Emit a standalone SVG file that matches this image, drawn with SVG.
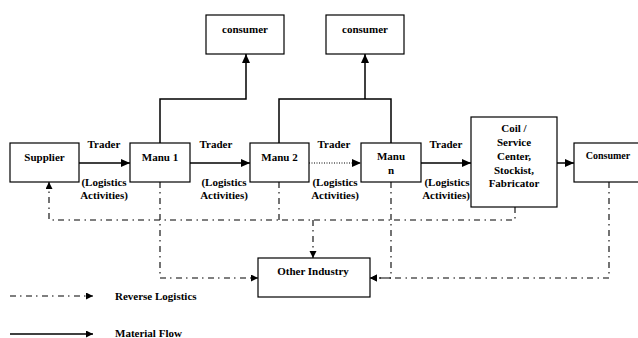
<svg xmlns="http://www.w3.org/2000/svg" width="638" height="338" viewBox="0 0 638 338">
<defs>
<style>
.box{fill:#fff;stroke:#000;stroke-width:1.2}
.t{font-weight:bold;font-size:11px;fill:#000;text-anchor:middle}
.sm{font-size:10px}
.solid{fill:none;stroke:#000;stroke-width:1.5}
.dd{fill:none;stroke:#000;stroke-width:1.1;stroke-dasharray:6 4 1.5 4.5}
.dot{fill:none;stroke:#000;stroke-width:1;stroke-dasharray:1 1.5}
</style>
<marker id="ah" markerWidth="10" markerHeight="10" refX="9" refY="4" orient="auto" markerUnits="userSpaceOnUse">
<path d="M0,0 L9,4 L0,8 Z" fill="#000"/>
</marker>
<marker id="ahs" markerWidth="8" markerHeight="8" refX="7" refY="3.5" orient="auto" markerUnits="userSpaceOnUse">
<path d="M0,0 L7,3.5 L0,7 Z" fill="#000"/>
</marker>
</defs>
<rect width="638" height="338" fill="#fff"/>
<g id="connectors">
<path class="solid" d="M79,163 H130" marker-end="url(#ah)"/>
<path class="solid" d="M190,163 H250" marker-end="url(#ah)"/>
<path class="dot" d="M309,163 H361" marker-end="url(#ah)"/>
<path class="solid" d="M421,163 H471" marker-end="url(#ah)"/>
<path class="solid" d="M557,163 H574" marker-end="url(#ah)"/>
<path class="solid" d="M160,143 V99 H246 V54" marker-end="url(#ah)"/>
<path class="solid" d="M279,143 V99 H391 V143"/>
<path class="solid" d="M365,99 V54" marker-end="url(#ah)"/>
<path class="dd" d="M515,207 V220 H49 V182" marker-end="url(#ahs)"/>
<path class="dd" d="M160,182 V278 H258" marker-end="url(#ahs)"/>
<path class="dd" d="M279,182 V220"/>
<path class="dd" d="M313,220 V258" marker-end="url(#ahs)"/>
<path class="dd" d="M391,182 V278 H370" marker-end="url(#ahs)"/>
<path class="dd" d="M609,182 V278 H370" marker-end="url(#ahs)"/>
</g>
<g font-family="'Liberation Serif', 'Times New Roman', 'DejaVu Serif', serif">
<g id="labels">
<text class="t" x="104" y="148">Trader</text>
<text class="t" x="216" y="148">Trader</text>
<text class="t" x="334" y="148">Trader</text>
<text class="t" x="446" y="148">Trader</text>
<text class="t" x="104" y="186">(Logistics</text>
<text class="t" x="104" y="199">Activities)</text>
<text class="t" x="224" y="186">(Logistics</text>
<text class="t" x="224" y="199">Activities)</text>
<text class="t" x="335" y="186">(Logistics</text>
<text class="t" x="335" y="199">Activities)</text>
<text class="t" x="447" y="186">(Logistics</text>
<text class="t" x="446" y="199">Activities)</text>
</g>
<g id="consumer1"><rect class="box" x="206" y="15" width="78" height="39"/><text class="t" x="245" y="33">consumer</text></g>
<g id="consumer2"><rect class="box" x="326" y="15" width="78" height="39"/><text class="t" x="365" y="33">consumer</text></g>
<g id="supplier"><rect class="box" x="10" y="143" width="69" height="39"/><text class="t" x="44.5" y="161">Supplier</text></g>
<g id="manu1"><rect class="box" x="130" y="143" width="60" height="39"/><text class="t" x="160" y="161">Manu 1</text></g>
<g id="manu2"><rect class="box" x="250" y="143" width="59" height="39"/><text class="t" x="279.5" y="161">Manu 2</text></g>
<g id="manun"><rect class="box" x="361" y="143" width="60" height="39"/><text class="t" x="391" y="160">Manu</text><text class="t" x="391" y="174">n</text></g>
<g id="coil"><rect class="box" x="471" y="117" width="86" height="90"/>
<text class="t" x="514" y="132">Coil /</text>
<text class="t" x="514" y="146">Service</text>
<text class="t" x="514" y="160">Center,</text>
<text class="t" x="514" y="174">Stockist,</text>
<text class="t" x="514" y="187">Fabricator</text></g>
<g id="consumer3"><rect class="box" x="574" y="143" width="70" height="39"/><text class="t sm" x="608" y="159">Consumer</text></g>
<g id="other"><rect class="box" x="258" y="258" width="112" height="39"/><text class="t" x="313" y="275">Other Industry</text></g>
<g id="legend">
<path class="dd" d="M10,296 H93" marker-end="url(#ahs)"/>
<text class="t" x="115" y="300" style="text-anchor:start">Reverse Logistics</text>
<path class="solid" d="M10,334 H93" marker-end="url(#ahs)"/>
<text class="t" x="115" y="337" style="text-anchor:start">Material Flow</text>
</g>
</g>
</svg>
